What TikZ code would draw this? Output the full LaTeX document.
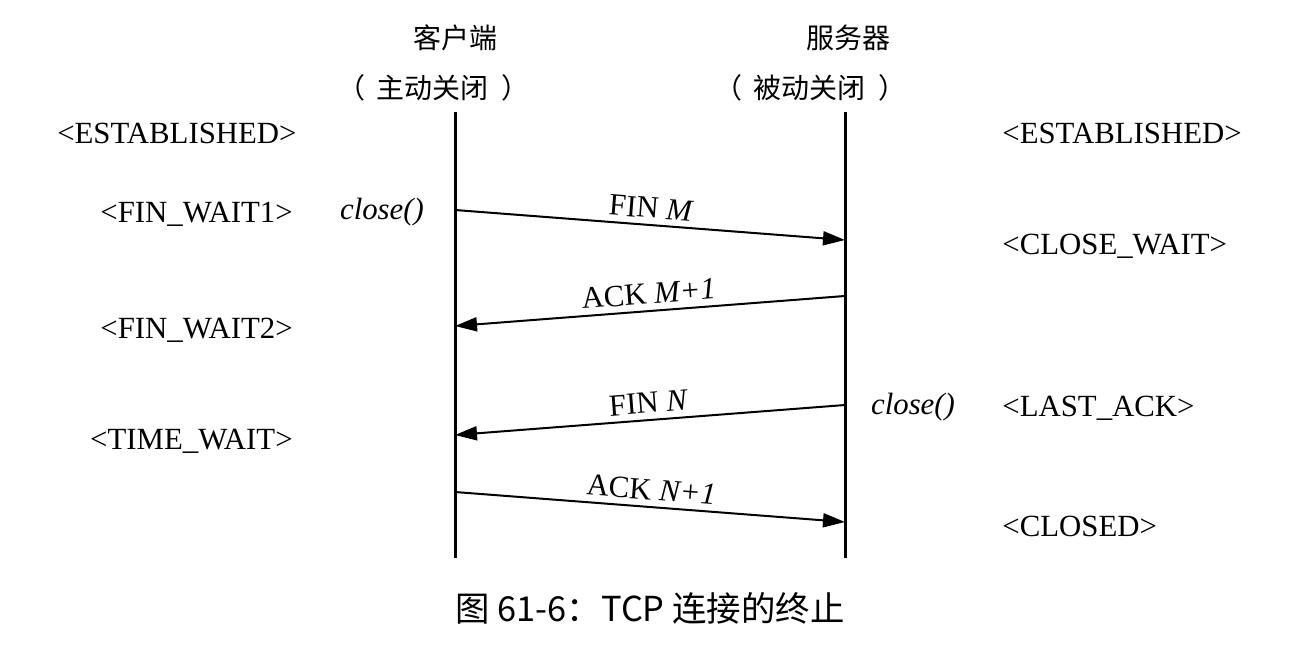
\documentclass[tikz,border=0pt]{standalone}
\usepackage{fontspec}
\setmainfont{Liberation Serif}
\newfontfamily\cjkfont{Noto Sans CJK SC}
\usetikzlibrary{arrows.meta, calc}

\begin{document}
\begin{tikzpicture}[
  x=0.5pt, y=-0.5pt,
  life/.style={line width=1.5pt},
  msg/.style={line width=1pt, -{Triangle[length=11pt, width=7pt]}},
  state/.style={inner sep=0pt, font=\fontsize{15.4}{18}\selectfont},
  call/.style={inner sep=0pt, font=\fontsize{15.4}{18}\selectfont\itshape},
  lbl/.style={inner sep=0pt, font=\fontsize{15.4}{18}\selectfont, midway, above=3pt, sloped},
  head/.style={inner sep=0pt, font=\fontsize{14}{16}\selectfont\cjkfont}
]
  \useasboundingbox (0,0) rectangle (1304,668);
  % headers
  \node[head] (client) at (455,38) {客户端};
  \node[head] (clientnote) at (433,88) {（\hspace{6pt}主动关闭\hspace{6pt}）};
  \node[head] (server) at (848,38) {服务器};
  \node[head] (servernote) at (810,88) {（\hspace{6pt}被动关闭\hspace{6pt}）};
  % lifelines
  \coordinate (ctop) at (455,112);
  \coordinate (cbot) at (455,558);
  \coordinate (stop) at (845,112);
  \coordinate (sbot) at (845,558);
  \draw[life] (ctop) -- (cbot);
  \draw[life] (stop) -- (sbot);
  % message end points on the lifelines
  \coordinate (c1) at (455,210); \coordinate (s1) at (845,240);
  \coordinate (s2) at (845,296); \coordinate (c2) at (455,326);
  \coordinate (s3) at (845,405); \coordinate (c3) at (455,435);
  \coordinate (c4) at (455,492); \coordinate (s4) at (845,522);
  % messages
  \draw[msg] (c1) -- (s1) node[lbl] {FIN \textit{M}};
  \draw[msg] (s2) -- (c2) node[lbl] {ACK \textit{M+1}};
  \draw[msg] (s3) -- (c3) node[lbl] {FIN \textit{N}};
  \draw[msg] (c4) -- (s4) node[lbl] {ACK \textit{N+1}};
  % calls
  \node[call] (cclose) at (382,212) {close()};
  \node[call] (sclose) at (913,407) {close()};
  % client states
  \node[state, anchor=east] (cest) at (297,133) {<ESTABLISHED>};
  \node[state, anchor=east] (cfw1) at (293,214) {<FIN\_WAIT1>};
  \node[state, anchor=east] (cfw2) at (293,330) {<FIN\_WAIT2>};
  \node[state, anchor=east] (ctw) at (293,441) {<TIME\_WAIT>};
  % server states
  \node[state, anchor=west] (sest) at (1002,133) {<ESTABLISHED>};
  \node[state, anchor=west] (scw) at (1002,246) {<CLOSE\_WAIT>};
  \node[state, anchor=west] (sla) at (1002,408) {<LAST\_ACK>};
  \node[state, anchor=west] (scl) at (1002,526) {<CLOSED>};
  % caption
  \node[inner sep=0pt, font=\fontsize{17.2}{20}\selectfont\cjkfont] (caption) at (650,608) {图 61-6：TCP 连接的终止};
\end{tikzpicture}
\end{document}
